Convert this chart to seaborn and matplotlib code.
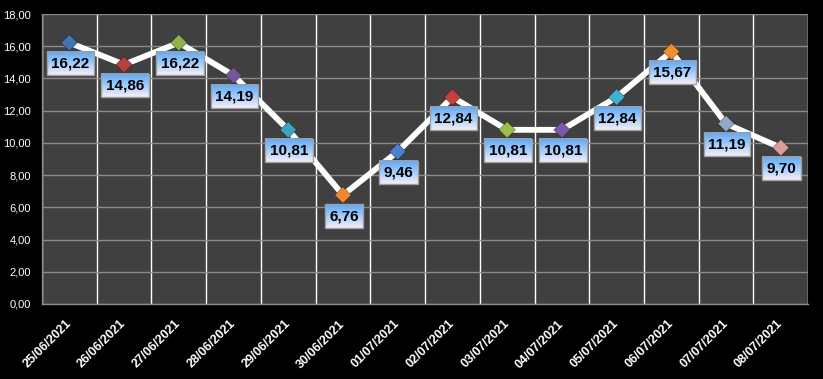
import numpy as np
import pandas as pd
import matplotlib
matplotlib.use('Agg')
import matplotlib.pyplot as plt
from matplotlib.colors import LinearSegmentedColormap
import seaborn as sns

# data
dates = ['25/06/2021', '26/06/2021', '27/06/2021', '28/06/2021', '29/06/2021',
         '30/06/2021', '01/07/2021', '02/07/2021', '03/07/2021', '04/07/2021',
         '05/07/2021', '06/07/2021', '07/07/2021', '08/07/2021']
values = [16.22, 14.86, 16.22, 14.19, 10.81, 6.76, 9.46,
          12.84, 10.81, 10.81, 12.84, 15.67, 11.19, 9.70]
marker_colors = ['#3f74b5', '#b8403d', '#8fb24a', '#74579a', '#3aa3c0', '#ef8631',
                 '#4a83cc', '#c8403d', '#9cbf4a', '#7a5aa6', '#3fb0cf', '#f58c2c',
                 '#93a8c9', '#dc9d99']
y_ticks = [0, 2, 4, 6, 8, 10, 12, 14, 16, 18]

df = pd.DataFrame({'idx': range(len(dates)), 'date': dates, 'value': values})

sns.set_style('dark')
plt.rcParams['font.family'] = ['Liberation Sans', 'DejaVu Sans']

fig, ax = plt.subplots(figsize=(8.23, 3.79), dpi=100)
fig.patch.set_facecolor('black')
ax.set_facecolor('#404040')
fig.subplots_adjust(left=0.051, right=0.982, bottom=0.198, top=0.963)

sns.lineplot(data=df, x='idx', y='value', color='white', lw=4.2, ax=ax, zorder=3)
sns.scatterplot(data=df, x='idx', y='value', hue='date', palette=marker_colors,
                marker='D', s=70, edgecolor=(0, 0, 0, 0.35), linewidth=0.6,
                legend=False, ax=ax, zorder=4)

# axes, ticks, grid
ax.set_xlim(-0.5, len(dates) - 0.5)
ax.set_ylim(0, 18)
ax.set_xticks(range(len(dates)))
ax.set_xticklabels(dates, rotation=45, ha='right', va='center',
                   rotation_mode='anchor', fontsize=9, fontweight='bold', color='white')
ax.set_xticks(np.arange(-0.5, len(dates), 1), minor=True)
ax.tick_params(axis='x', which='major', length=0, pad=13)
ax.tick_params(axis='x', which='minor', length=4, color='#8a8a8a', width=1)
ax.set_yticks(y_ticks)
ax.set_yticklabels([f'{v:.2f}'.replace('.', ',') for v in y_ticks], fontsize=8, color='white')
ax.tick_params(axis='y', length=4, color='#8a8a8a', width=1, pad=4)
ax.grid(False)
ax.grid(axis='x', which='minor', color='white', lw=1)
ax.grid(axis='y', which='major', color='#8a8a8a', lw=1)
ax.set_axisbelow(True)
for side in ['top', 'right']:
    ax.spines[side].set_visible(False)
for side in ['left', 'bottom']:
    ax.spines[side].set_color('#8a8a8a')
    ax.spines[side].set_linewidth(1)
ax.set_xlabel('')
ax.set_ylabel('')

# data labels with a gradient box
texts = []
for i, v in enumerate(values):
    t = ax.annotate(f'{v:.2f}'.replace('.', ','), (i, v), xytext=(1, -21),
                    textcoords='offset pixels', ha='center', va='center',
                    fontsize=11, fontweight='bold', color='black',
                    bbox=dict(boxstyle='square,pad=0.3', fc='none', ec='#a0a0a0', lw=1),
                    zorder=6)
    texts.append(t)

fig.canvas.draw()
renderer = fig.canvas.get_renderer()
grad_cmap = LinearSegmentedColormap.from_list(
    'lbl', [(0, '#f7effa'), (0.45, '#a8cffa'), (1, '#5ba8f8')])
grad = np.linspace(0, 1, 64).reshape(-1, 1)
inv = ax.transData.inverted()
for t in texts:
    bb = t.get_bbox_patch().get_window_extent(renderer)
    (x0, y0), (x1, y1) = inv.transform([(bb.x0, bb.y0), (bb.x1, bb.y1)])
    ax.imshow(grad, extent=[x0, x1, y0, y1], origin='lower', aspect='auto',
              cmap=grad_cmap, interpolation='bilinear', zorder=5.5, clip_on=False)

ax.set_xlim(-0.5, len(dates) - 0.5)
ax.set_ylim(0, 18)

fig.savefig('out.png', dpi=100, facecolor=fig.get_facecolor())
